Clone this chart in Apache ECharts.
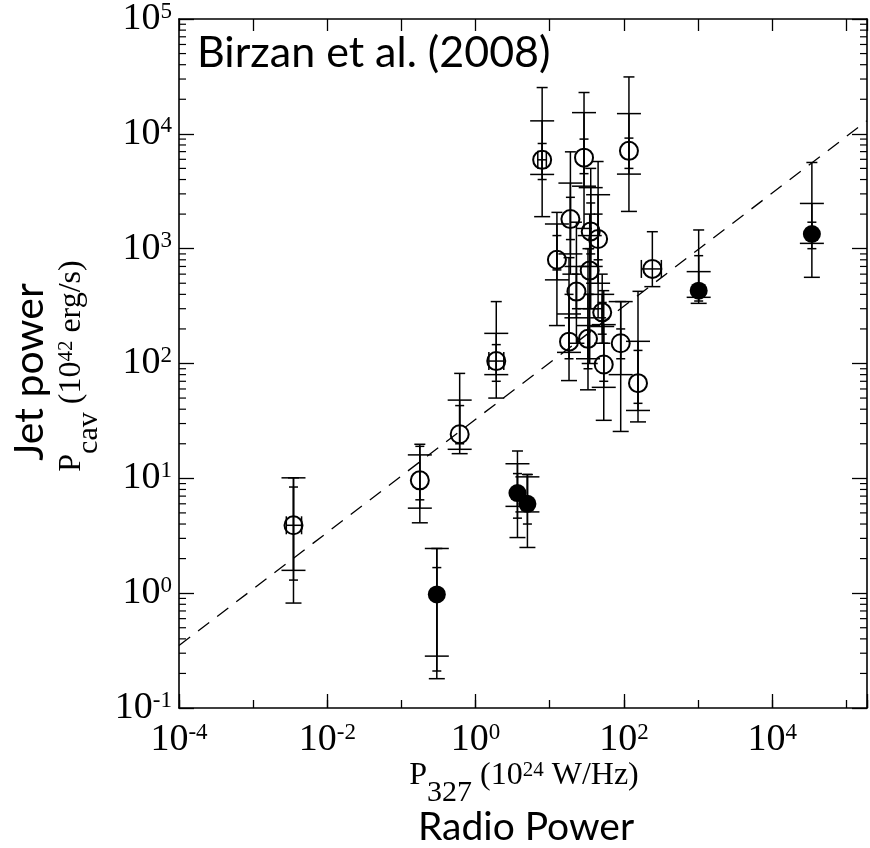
<!DOCTYPE html>
<html>
<head>
<meta charset="utf-8">
<script src="https://cdn.jsdelivr.net/npm/echarts@6/dist/echarts.min.js"></script>
<style>
html, body { margin: 0; padding: 0; background: #fff; }
#main { width: 870px; height: 848px; }
</style>
</head>
<body>
<div id="main"></div>
<script>
// cavity (jet) power against 327 MHz radio power, Birzan et al. (2008)

var X_MIN = 1e-4, X_MAX = 1.9e5;
var Y_MIN = 0.1, Y_MAX = 1e5;

// points: 20 open circles, then 5 filled
var ptX = [0.0035, 0.177, 0.61, 1.9, 7.9, 12.5, 19, 18.2, 22.9, 29, 32.8, 35.7, 34.6, 44.9, 51, 53.5, 90.6, 117, 155, 242,
	0.30, 3.67, 5.0, 1020, 34300];
var ptY = [3.9, 9.6, 24.2, 105, 5940, 800, 1810, 155, 423, 6200, 164, 1414, 644, 1214, 279, 98, 150, 7110, 67.4, 666,
	0.975, 7.45, 6.0, 431, 1342];
var filled = [0, 0, 0, 0, 0, 0, 0, 0, 0, 0, 0, 0, 0, 0, 0, 0, 0, 0, 0, 0, 1, 1, 1, 1, 1];

// vertical error ranges (three sets per point)
var outerLo = [0.82, 4.1, 16.4, 50, 1900, 214, 600, 71, 150, 1500, 59, 300, 100, 250, 150, 32, 25.6, 2110, 31, 467,
	0.18, 3.05, 2.5, 334, 563];
var outerHi = [10.1, 19.8, 82, 346, 25300, 2070, 6970, 835, 1700, 22900, 1000, 5000, 2000, 5740, 600, 431, 346, 31300, 425, 1405,
	2.45, 17.3, 10.8, 1455, 5630];
var wideLo = [1.58, 5.5, 17.9, 80, 4430, 535, 900, 125, 250, 3500, 110, 700, 300, 500, 210, 62, 80, 4460, 39, null,
	0.283, 5.7, 5.1, 377, 1112];
var wideHi = [10.1, 16, 48, 183, 12970, 1640, 3725, 270, 700, 15300, 214, 3400, 1300, 2950, 400, 218, 346, 15000, 156, null,
	2.45, 13.4, 10.3, 631, 2476];
var innerLo = [1.30, 6.5, 20, 70, 4000, 653, 1200, 110, 300, 4500, 90, 900, 400, 800, 180, 70, 110, 5000, 45, null,
	0.21, 4.5, 4.0, 350, 1000];
var innerHi = [8.4, 19, 43, 146, 8240, 1300, 2800, 400, 600, 9000, 400, 2500, 1000, 2000, 340, 150, 200, 9180, 130, null,
	1.67, 11, 10.8, 869, 1700];

// horizontal error ranges (only where they show)
var xLo = [0.0028, null, null, 1.51, 6.9, null, null, null, null, null, null, null, null, null, null, null, null, null, null, 172,
	null, null, null, null, null];
var xHi = [0.0045, null, null, 2.4, 9.0, null, null, null, null, null, null, null, null, null, null, null, null, null, null, 320,
	null, null, null, null, null];

// best fit line, two ends
var fitLine = [[1e-4, 0.35], [1.9e5, 1.3e4]];

// minor ticks on the y axis
var minorY = [];
for (var e = -1; e < 5; e++) {
	for (var m = 2; m < 10; m++) minorY.push(m * Math.pow(10, e));
}

var openPts = [], fullPts = [], barPts = [];
for (var i = 0; i < ptX.length; i++) {
	barPts.push([ptX[i], ptY[i]]);
	if (filled[i]) fullPts.push([ptX[i], ptY[i]]);
	else openPts.push([ptX[i], ptY[i]]);
}

var serif = 'Liberation Serif';
var powRich = {
	b: { fontSize: 38, fontFamily: serif, color: '#000', lineHeight: 38, verticalAlign: 'top' },
	s: { fontSize: 23, fontFamily: serif, color: '#000', lineHeight: 23, verticalAlign: 'top' }
};
var titleRich = {
	m: { fontSize: 32, fontFamily: serif, fill: '#000', lineHeight: 32, verticalAlign: 'top' },
	sub: { fontSize: 30, fontFamily: serif, fill: '#000', lineHeight: 48, verticalAlign: 'bottom' },
	sup: { fontSize: 21, fontFamily: serif, fill: '#000', lineHeight: 21, verticalAlign: 'top' }
};

function fmtPow(v) {
	var l = Math.log(v) / Math.LN10;
	var k = Math.round(l);
	if (Math.abs(l - k) > 0.01) return '';
	return '{b|10}{s|' + k + '}';
}

function seg(x1, y1, x2, y2, w) {
	return { type: 'line', shape: { x1: x1, y1: y1, x2: x2, y2: y2 }, style: { stroke: '#000', lineWidth: w || 1.5 } };
}

function renderBars(params, api) {
	var i = params.dataIndex;
	var kids = [];
	function vbar(lo, hi, capTop, capBot) {
		if (lo == null || hi == null) return;
		var a = api.coord([ptX[i], lo]), b = api.coord([ptX[i], hi]);
		kids.push(seg(a[0], a[1], b[0], b[1]));
		kids.push(seg(b[0] - capTop / 2, b[1], b[0] + capTop / 2, b[1]));
		kids.push(seg(a[0] - capBot / 2, a[1], a[0] + capBot / 2, a[1]));
	}
	vbar(outerLo[i], outerHi[i], 11, 16);
	vbar(wideLo[i], wideHi[i], 24, 24);
	vbar(innerLo[i], innerHi[i], 9, 9);
	if (xLo[i] != null) {
		var l = api.coord([xLo[i], ptY[i]]), r = api.coord([xHi[i], ptY[i]]);
		kids.push(seg(l[0], l[1], r[0], r[1]));
		kids.push(seg(l[0], l[1] - 9, l[0], l[1] + 9));
		kids.push(seg(r[0], r[1] - 9, r[0], r[1] + 9));
	}
	return { type: 'group', children: kids };
}

function renderMinor(params, api) {
	var v = minorY[params.dataIndex];
	var l = api.coord([X_MIN, v]), r = api.coord([X_MAX, v]);
	return {
		type: 'group',
		children: [seg(l[0], l[1], l[0] + 7, l[1], 1.2), seg(r[0] - 7, r[1], r[0], r[1], 1.2)]
	};
}

var axLine = { lineStyle: { color: '#000', width: 1.6 } };

var chart = echarts.init(document.getElementById('main'));
chart.setOption({
	animation: false,
	backgroundColor: '#fff',
	grid: { left: 179, right: 3, top: 18, bottom: 140 },
	xAxis: [{
		type: 'log', logBase: 100, min: X_MIN, max: X_MAX, position: 'bottom', splitNumber: 5,
		axisLine: axLine,
		axisTick: { inside: true, length: 14, lineStyle: { color: '#000', width: 1.3 } },
		axisLabel: { margin: 13, formatter: fmtPow, rich: powRich },
		splitLine: { show: false }
	}, {
		type: 'log', logBase: 10, min: X_MIN, max: X_MAX, position: 'bottom', splitNumber: 10,
		axisLine: { show: false },
		axisTick: { inside: true, length: 8, lineStyle: { color: '#000', width: 1.3 } },
		axisLabel: { show: false },
		splitLine: { show: false }
	}, {
		type: 'log', logBase: 10, min: X_MIN, max: X_MAX, position: 'top', splitNumber: 10,
		axisLine: axLine,
		axisTick: { inside: true, length: 12, lineStyle: { color: '#000', width: 1.3 } },
		axisLabel: { show: false },
		splitLine: { show: false }
	}],
	yAxis: [{
		type: 'log', min: Y_MIN, max: Y_MAX, position: 'left', splitNumber: 6,
		axisLine: axLine,
		axisTick: { inside: true, length: 15, lineStyle: { color: '#000', width: 1.3 } },
		axisLabel: { margin: 7, formatter: fmtPow, rich: powRich },
		splitLine: { show: false }
	}, {
		type: 'log', min: Y_MIN, max: Y_MAX, position: 'right', splitNumber: 6,
		axisLine: axLine,
		axisTick: { inside: true, length: 15, lineStyle: { color: '#000', width: 1.3 } },
		axisLabel: { show: false },
		splitLine: { show: false }
	}],
	series: [{
		type: 'custom', renderItem: renderMinor, silent: true,
		data: minorY.map(function(v) { return [X_MIN, v]; })
	}, {
		type: 'line', data: fitLine, symbol: 'none', silent: true,
		lineStyle: { color: '#000', width: 1.3, type: [14, 10] }
	}, {
		type: 'custom', renderItem: renderBars, silent: true, data: barPts, z: 3
	}, {
		type: 'scatter', data: openPts, symbol: 'circle', symbolSize: 18, z: 4,
		itemStyle: { color: 'rgba(0,0,0,0)', borderColor: '#000', borderWidth: 2, opacity: 1 }
	}, {
		type: 'scatter', data: fullPts, symbol: 'circle', symbolSize: 18, z: 4,
		itemStyle: { color: '#000', opacity: 1 }
	}],
	graphic: [{
		type: 'text', x: 197, y: 53,
		style: { text: 'Birzan et al. (2008)', font: '43px Lato', fill: '#000', align: 'left', verticalAlign: 'middle' }
	}, {
		type: 'text', x: 524, y: 784,
		style: {
			text: '{m|P}{sub|327}{m| (10}{sup|24}{m| W/Hz)}', align: 'center', verticalAlign: 'middle',
			rich: titleRich
		}
	}, {
		type: 'text', x: 526, y: 827,
		style: { text: 'Radio Power', font: '39px Lato', fill: '#000', align: 'center', verticalAlign: 'middle' }
	}, {
		type: 'text', x: 30, y: 372, rotation: Math.PI / 2,
		style: { text: 'Jet power', font: '41px Lato', fill: '#000', align: 'center', verticalAlign: 'middle' }
	}, {
		type: 'text', x: 80, y: 366, rotation: Math.PI / 2,
		style: {
			text: '{m|P}{sub|cav}{m| (10}{sup|42}{m| erg/s)}', align: 'center', verticalAlign: 'middle',
			rich: titleRich
		}
	}]
});
</script>
</body>
</html>
